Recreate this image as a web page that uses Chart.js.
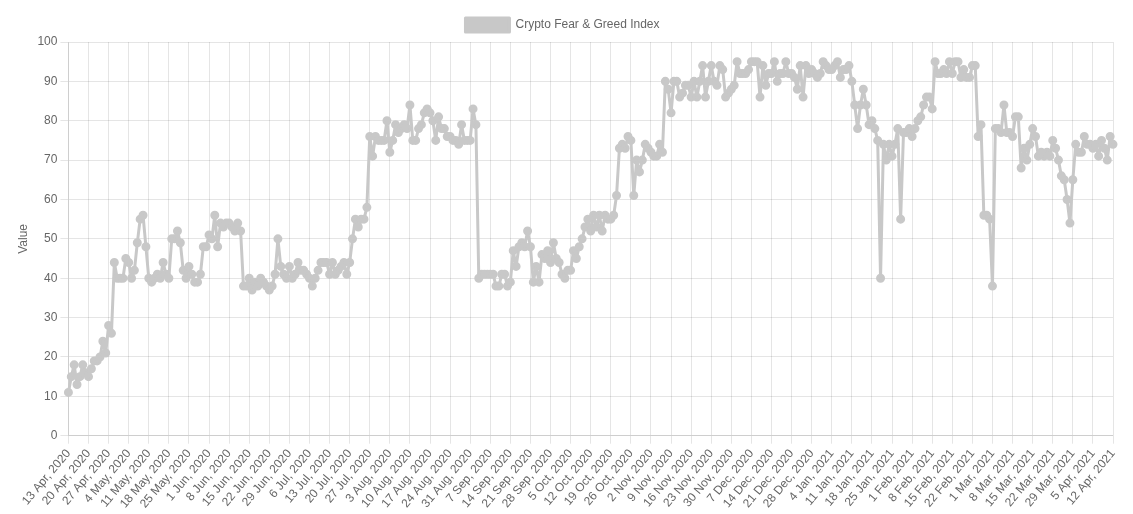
<!DOCTYPE html>
<html><head><meta charset="utf-8">
<script src="https://cdn.jsdelivr.net/npm/chart.js@4/dist/chart.umd.min.js"></script>
<style>html,body{margin:0;padding:0;background:#fff}#w{width:1133px;height:514px}</style>
</head><body><div id="w"><canvas id="c"></canvas></div>
<script>
const startDate = [2020, 3, 13];
const values = [
11,15,18,13,15,18,16,15,17,19,19,20,24,21,28,26,44,40,40,40,45,44,40,42,49,55,56,48,40,39,
40,41,40,44,41,40,50,50,52,49,42,40,43,41,39,39,41,48,48,51,50,56,48,54,53,54,54,53,52,54,
52,38,38,40,37,39,38,40,39,38,37,38,41,50,43,41,40,43,40,41,44,42,42,41,40,38,40,42,44,44,
44,41,44,41,42,43,44,41,44,50,55,53,55,55,58,76,71,76,75,75,75,80,72,75,79,77,78,79,78,84,
75,75,78,79,82,83,82,80,75,81,78,78,76,76,75,75,74,79,75,75,75,83,79,40,41,41,41,41,41,38,
38,41,41,38,39,47,43,48,49,48,52,48,39,43,39,46,45,47,44,49,45,44,41,40,42,42,47,45,48,50,
53,55,52,56,53,56,52,56,55,55,56,61,73,74,73,76,75,61,70,67,70,74,73,72,71,71,74,72,90,88,
82,90,90,86,87,89,89,86,90,86,90,94,86,90,94,90,89,94,93,86,87,88,89,95,92,92,92,93,95,95,
95,86,94,89,92,92,95,90,92,92,95,92,92,91,88,94,86,94,92,93,92,91,92,95,94,93,93,94,95,91,
93,93,94,90,84,78,84,88,84,79,80,78,75,40,74,70,74,71,74,78,55,77,77,78,76,78,80,81,84,86,
86,83,95,92,92,93,92,95,92,95,95,91,93,91,91,94,94,76,79,56,56,55,38,78,78,77,84,77,77,76,
81,81,68,73,70,74,78,76,71,72,71,72,71,75,73,70,66,65,60,54,65,74,72,72,76,74,74,73,74,71,
75,73,70,76,74
];
const months = ['Jan','Feb','Mar','Apr','May','Jun','Jul','Aug','Sep','Oct','Nov','Dec'];
const labels = values.map((v, i) => {
  const d = new Date(Date.UTC(startDate[0], startDate[1], startDate[2] + i));
  return d.getUTCDate() + ' ' + months[d.getUTCMonth()] + ', ' + d.getUTCFullYear();
});
Chart.defaults.font.family = 'Liberation Sans, Arial, sans-serif';
Chart.defaults.color = '#666';
new Chart(document.getElementById('c'), {
  type: 'line',
  data: { labels, datasets: [{
    label: 'Crypto Fear & Greed Index', data: values,
    borderColor: 'rgb(200,200,200)', backgroundColor: 'rgb(200,200,200)',
    borderWidth: 3, pointRadius: 3, pointBackgroundColor: 'rgb(200,200,200)', tension: 0,
    borderJoinStyle: 'round'
  }]},
  options: {
    responsive: true, maintainAspectRatio: false, animation: false,
    layout: { padding: { left: 12, right: 20, top: 8, bottom: 0 } },
    plugins: { legend: { labels: { boxWidth: 44, boxHeight: 14, font: { size: 12 } } }, tooltip: { enabled: false } },
    scales: {
      x: { afterBuildTicks: (scale) => { scale.ticks = scale.ticks.filter((t, i) => i % 7 === 0); },
           ticks: { autoSkip: false, minRotation: 50, maxRotation: 50, font: { size: 12 } },
           grid: { color: 'rgba(0,0,0,0.1)' } },
      y: { min: 0, max: 100, ticks: { stepSize: 10, font: { size: 12 } },
           title: { display: true, text: 'Value', font: { size: 12 } },
           grid: { color: 'rgba(0,0,0,0.1)' } }
    }
  }
});
</script></body></html>
